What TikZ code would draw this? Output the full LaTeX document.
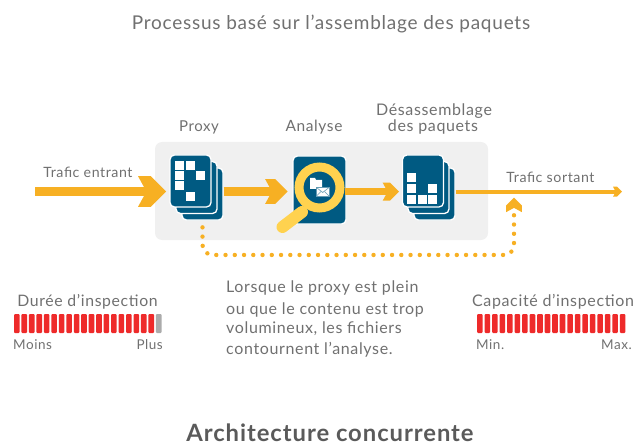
\documentclass[tikz,border=0pt]{standalone}
\usepackage{fontspec}
\setmainfont{Lato}[LetterSpace=4]
\usetikzlibrary{calc}
\definecolor{flowcol}{HTML}{F7B023}
\definecolor{cardcol}{HTML}{005A82}
\definecolor{lenscol}{HTML}{FFD24F}
\definecolor{barcol}{HTML}{EE2A2A}
\definecolor{textcol}{HTML}{707070}
\tikzset{
    card/.style = {shape=rectangle,draw=white,fill=cardcol,line width=1.3pt,rounded corners=4.5pt,minimum width=41pt,minimum height=52pt,inner sep=0pt},
    cell/.style = {shape=rectangle,fill=white,minimum size=9pt,inner sep=0pt},
    flow/.style = {draw=flowcol},
    bypass/.style = {draw=flowcol,line width=4.4pt,line cap=round,dash pattern=on 0pt off 9.25pt,rounded corners=10pt},
    label/.style = {text=textcol,font=\fontsize{16}{18}\selectfont,inner sep=0pt},
    small/.style = {text=textcol,font=\fontsize{13.5}{15}\selectfont,inner sep=0pt},
    gauge/.style = {fill=barcol,rounded corners=1pt},
    pics/chevron/.style = {code={\fill[flowcol] (0,0) -- (-.55,.55) -- (-1,.55) -- (-.7,0) -- (-1,-.55) -- (-.55,-.55) -- cycle;}}
}
\begin{document}
\begin{tikzpicture}[x=1pt,y=-1pt]
    \useasboundingbox (0,0) rectangle (636,446);
    % titles
    \node[text=textcol,font=\fontsize{19}{21}\selectfont,inner sep=0pt] (title) at (331,24) {Processus basé sur l’assemblage des paquets};
    \node[text=textcol!80!black,font=\fontsize{23.8}{26}\selectfont\bfseries,inner sep=0pt] (caption) at (330,433) {Architecture concurrente};
    % panel
    \node[shape=rectangle,fill=black!6,rounded corners=7pt,minimum width=333pt,minimum height=98pt,inner sep=0pt] (panel) at (321.5,191) {};
    % free ends and heads
    \coordinate (trafficin) at (35,191.5);
    \coordinate (proxyhead) at (166,191.5);
    \coordinate (analysehead) at (287.5,191.5);
    \coordinate (packethead) at (399,191.7);
    \coordinate (trafficout) at (622,191.7);
    \coordinate (bypasstip) at (514,197.7);
    \coordinate (bypassend) at (514,211);
    % cards
    \node[card] (proxyback) at (202.5,194) {};
    \node[card] (proxymid) at (196.5,187.5) {};
    \node[card] (proxy) at (190.5,181) {};
    \node[card,minimum width=53pt,minimum height=68pt] (analyse) at (319.5,190) {};
    \node[card] (packetback) at (434.5,194) {};
    \node[card] (packetmid) at (428.5,187.5) {};
    \node[card] (packet) at (423,181) {};
    % cells
    \foreach \cx/\cy in {179/165.5,190/165.5,179/176,200/176,179/186,190/197}
        \node[cell] at (\cx,\cy) {};
    \foreach \cx/\cy in {411/178,411/188.5,411/199.5,422/199.5,432/188.5,432/199.5}
        \node[cell] at (\cx,\cy) {};
    % lens
    \draw[lenscol,line width=12pt,line cap=round] (302,212) -- (282.5,227);
    \draw[lenscol,line width=9pt] (319.5,187.5) circle (20.5);
    \fill[white] (310,178) -- (315,178) -- (316,180) -- (322,180) -- (322,189) -- (310,189) -- cycle;
    \draw[fill=white,draw=cardcol!60,line width=.7pt] (316.5,187.5) rectangle (329,196);
    \draw[cardcol!60,line width=.6pt] (316.5,187.5) -- (322.7,192.5) -- (329,187.5);
    \draw[cardcol!60,line width=.5pt] (316.5,196) -- (321,191.5) (329,196) -- (324.5,191.5);
    % edges
    \draw[flow,line width=9.5pt,shorten >=12pt] (trafficin) -- (proxyhead);
    \pic[scale=28] at (proxyhead) {chevron};
    \draw[flow,line width=9pt,shorten >=10pt] (proxyback.east |- analysehead) -- (analysehead);
    \pic[scale=22.3] at (analysehead) {chevron};
    \draw[flow,line width=7pt,shorten >=8pt,shorten <=-2pt] (analyse.east |- packethead) -- (packethead);
    \pic[scale=16.3] at (packethead) {chevron};
    \draw[flow,line width=4pt,shorten >=4pt] (packetback.east |- trafficout) -- (trafficout);
    \pic[scale=9] at (trafficout) {chevron};
    \draw[bypass] ([yshift=-6.7pt]proxyback.south) -- ++(0,27.6) -| (bypassend);
    \pic[scale=14.5,rotate=90] at (bypasstip) {chevron};
    % labels
    \node[label,font=\fontsize{15}{17}\selectfont] (lproxy) at (199,127) {Proxy};
    \node[label,font=\fontsize{15.5}{17}\selectfont] (lanalyse) at (314,127) {Analyse};
    \node[label] (lpacket) at (434,111) {Désassemblage};
    \node[label] (lpacketb) at (433,127) {des paquets};
    \node[label,font=\fontsize{14.2}{16}\selectfont] (lin) at (88,172) {Trafic entrant};
    \node[label,font=\fontsize{14.2}{16}\selectfont] (lout) at (550.5,177) {Trafic sortant};
    \node[label,anchor=west] (note1) at (226,287.5) {Lorsque le proxy est plein};
    \node[label,anchor=west] (note2) at (226,309.5) {ou que le contenu est trop};
    \node[label,anchor=west] (note3) at (226,329) {volumineux, les fichiers};
    \node[label,anchor=west] (note4) at (226,350) {contournent l’analyse.};
    % gauges
    \node[label,font=\fontsize{15.8}{17}\selectfont] (lduree) at (87.5,302) {Durée d’inspection};
    \foreach \i in {0,...,18}
        \fill[gauge] ({14+\i*7.47},314) rectangle +(5.6,19);
    \fill[gauge,fill=black!33] ({14+19*7.47},314) rectangle +(5.6,19);
    \node[small,anchor=west] (lmoins) at (13,345) {Moins};
    \node[small,anchor=east] (lplus) at (163,345) {Plus};
    \node[label] (lcapacite) at (553,302) {Capacité d’inspection};
    \foreach \i in {0,...,19}
        \fill[gauge] ({477+\i*7.52},314) rectangle +(5.6,19);
    \node[small,anchor=west] (lmin) at (476,345) {Min.};
    \node[small,anchor=east] (lmax) at (632,345) {Max.};
\end{tikzpicture}
\end{document}
